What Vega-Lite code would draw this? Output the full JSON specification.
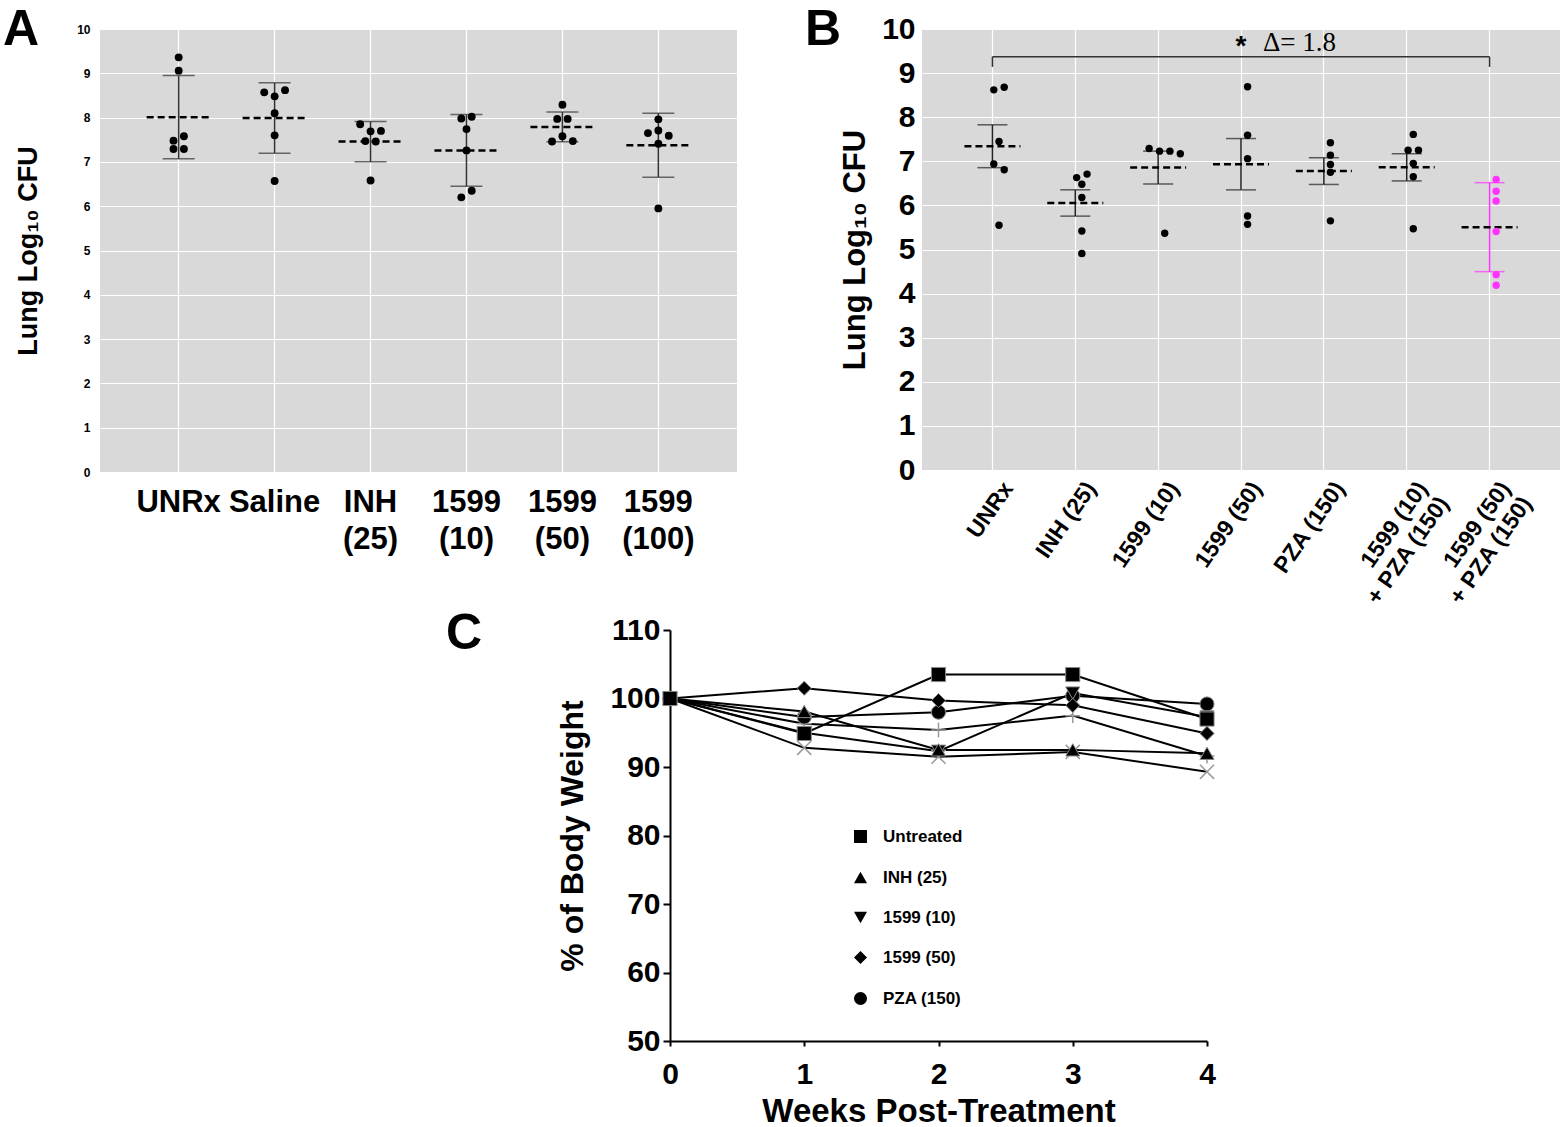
{
"$schema": "https://vega.github.io/schema/vega-lite/v6.json",
"background": "white",
"padding": {"left": 3, "top": 5, "right": 0, "bottom": 0},
"config": {
  "font": "Liberation Sans",
  "view": {"stroke": null},
  "title": {"fontSize": 50, "fontWeight": "bold", "anchor": "start", "frame": "group", "baseline": "alphabetic", "color": "black", "font": "Liberation Sans"},
  "axis": {"labelColor": "black", "titleColor": "black", "labelFontWeight": "bold", "titleFontWeight": "bold", "labelFont": "Liberation Sans", "titleFont": "Liberation Sans"}
},
"resolve": {"legend": {"shape": "independent"}, "scale": {"shape": "independent"}},
"datasets": {
  "panelA": [
    {"group": "UNRx", "value": 9.36, "lane": 0},
    {"group": "UNRx", "value": 9.06, "lane": 0},
    {"group": "UNRx", "value": 7.48, "lane": -1},
    {"group": "UNRx", "value": 7.58, "lane": 1},
    {"group": "UNRx", "value": 7.29, "lane": -1},
    {"group": "UNRx", "value": 7.29, "lane": 1},
    {"group": "Saline", "value": 8.57, "lane": -2},
    {"group": "Saline", "value": 8.48, "lane": 0},
    {"group": "Saline", "value": 8.62, "lane": 2},
    {"group": "Saline", "value": 8.10, "lane": 0},
    {"group": "Saline", "value": 7.60, "lane": 0},
    {"group": "Saline", "value": 6.57, "lane": 0},
    {"group": "INH (25)", "value": 7.85, "lane": -2},
    {"group": "INH (25)", "value": 7.69, "lane": 0},
    {"group": "INH (25)", "value": 7.70, "lane": 2},
    {"group": "INH (25)", "value": 7.47, "lane": -1},
    {"group": "INH (25)", "value": 7.46, "lane": 1},
    {"group": "INH (25)", "value": 6.58, "lane": 0},
    {"group": "1599 (10)", "value": 7.98, "lane": -1},
    {"group": "1599 (10)", "value": 8.02, "lane": 1},
    {"group": "1599 (10)", "value": 7.74, "lane": 0},
    {"group": "1599 (10)", "value": 7.26, "lane": 0},
    {"group": "1599 (10)", "value": 6.35, "lane": 1},
    {"group": "1599 (10)", "value": 6.20, "lane": -1},
    {"group": "1599 (50)", "value": 8.29, "lane": 0},
    {"group": "1599 (50)", "value": 7.97, "lane": -1},
    {"group": "1599 (50)", "value": 7.97, "lane": 1},
    {"group": "1599 (50)", "value": 7.58, "lane": 0},
    {"group": "1599 (50)", "value": 7.46, "lane": -2},
    {"group": "1599 (50)", "value": 7.47, "lane": 2},
    {"group": "1599 (100)", "value": 7.96, "lane": 0},
    {"group": "1599 (100)", "value": 7.65, "lane": -2},
    {"group": "1599 (100)", "value": 7.71, "lane": 0},
    {"group": "1599 (100)", "value": 7.59, "lane": 2},
    {"group": "1599 (100)", "value": 7.41, "lane": 0},
    {"group": "1599 (100)", "value": 5.95, "lane": 0}
  ],
  "panelB": [
    {"group": "UNRx", "value": 8.62, "lane": -1},
    {"group": "UNRx", "value": 8.68, "lane": 1},
    {"group": "UNRx", "value": 7.45, "lane": 0},
    {"group": "UNRx", "value": 6.94, "lane": -1},
    {"group": "UNRx", "value": 6.81, "lane": 1},
    {"group": "UNRx", "value": 5.55, "lane": 0},
    {"group": "INH (25)", "value": 6.63, "lane": -1},
    {"group": "INH (25)", "value": 6.71, "lane": 1},
    {"group": "INH (25)", "value": 6.48, "lane": 0},
    {"group": "INH (25)", "value": 6.18, "lane": 0},
    {"group": "INH (25)", "value": 5.42, "lane": 0},
    {"group": "INH (25)", "value": 4.91, "lane": 0},
    {"group": "1599 (10)", "value": 7.29, "lane": -3},
    {"group": "1599 (10)", "value": 7.23, "lane": -1},
    {"group": "1599 (10)", "value": 7.23, "lane": 1},
    {"group": "1599 (10)", "value": 7.17, "lane": 3},
    {"group": "1599 (10)", "value": 5.37, "lane": 0},
    {"group": "1599 (50)", "value": 8.69, "lane": 0},
    {"group": "1599 (50)", "value": 7.59, "lane": 0},
    {"group": "1599 (50)", "value": 7.06, "lane": 0},
    {"group": "1599 (50)", "value": 5.76, "lane": 0},
    {"group": "1599 (50)", "value": 5.57, "lane": 0},
    {"group": "PZA (150)", "value": 7.42, "lane": 0},
    {"group": "PZA (150)", "value": 7.14, "lane": 0},
    {"group": "PZA (150)", "value": 6.93, "lane": 0},
    {"group": "PZA (150)", "value": 6.75, "lane": 0},
    {"group": "PZA (150)", "value": 5.65, "lane": 0},
    {"group": "1599 (10) + PZA (150)", "value": 7.61, "lane": 0},
    {"group": "1599 (10) + PZA (150)", "value": 7.25, "lane": -1},
    {"group": "1599 (10) + PZA (150)", "value": 7.25, "lane": 1},
    {"group": "1599 (10) + PZA (150)", "value": 6.95, "lane": 0},
    {"group": "1599 (10) + PZA (150)", "value": 6.65, "lane": 0},
    {"group": "1599 (10) + PZA (150)", "value": 5.47, "lane": 0},
    {"group": "1599 (50) + PZA (150)", "value": 6.59, "lane": 0},
    {"group": "1599 (50) + PZA (150)", "value": 6.32, "lane": 0},
    {"group": "1599 (50) + PZA (150)", "value": 6.10, "lane": 0},
    {"group": "1599 (50) + PZA (150)", "value": 5.41, "lane": 0},
    {"group": "1599 (50) + PZA (150)", "value": 4.43, "lane": 0},
    {"group": "1599 (50) + PZA (150)", "value": 4.19, "lane": 0}
  ],
  "bracket": [
    {"left": "UNRx", "right": "1599 (50) + PZA (150)", "mid": "1599 (50)", "top": 9.37, "bottom": 9.14, "labelY": 9.68, "star": "*", "label": "Δ= 1.8"}
  ],
  "weights": [
    {"series": "1599 (10) + PZA (150)", "week": 0, "pct": 100},
    {"series": "1599 (10) + PZA (150)", "week": 1, "pct": 96.3},
    {"series": "1599 (10) + PZA (150)", "week": 2, "pct": 95.4},
    {"series": "1599 (10) + PZA (150)", "week": 3, "pct": 97.5},
    {"series": "1599 (10) + PZA (150)", "week": 4, "pct": 91.6},
    {"series": "1599 (50) + PZA (150)", "week": 0, "pct": 100},
    {"series": "1599 (50) + PZA (150)", "week": 1, "pct": 92.8},
    {"series": "1599 (50) + PZA (150)", "week": 2, "pct": 91.5},
    {"series": "1599 (50) + PZA (150)", "week": 3, "pct": 92.2},
    {"series": "1599 (50) + PZA (150)", "week": 4, "pct": 89.3},
    {"series": "PZA (150)", "week": 0, "pct": 100},
    {"series": "PZA (150)", "week": 1, "pct": 97.3},
    {"series": "PZA (150)", "week": 2, "pct": 98.0},
    {"series": "PZA (150)", "week": 3, "pct": 100.4},
    {"series": "PZA (150)", "week": 4, "pct": 99.2},
    {"series": "1599 (50)", "week": 0, "pct": 100},
    {"series": "1599 (50)", "week": 1, "pct": 101.5},
    {"series": "1599 (50)", "week": 2, "pct": 99.7},
    {"series": "1599 (50)", "week": 3, "pct": 99.0},
    {"series": "1599 (50)", "week": 4, "pct": 94.9},
    {"series": "1599 (10)", "week": 0, "pct": 100},
    {"series": "1599 (10)", "week": 1, "pct": 95.0},
    {"series": "1599 (10)", "week": 2, "pct": 92.3},
    {"series": "1599 (10)", "week": 3, "pct": 100.8},
    {"series": "1599 (10)", "week": 4, "pct": 97.3},
    {"series": "INH (25)", "week": 0, "pct": 100},
    {"series": "INH (25)", "week": 1, "pct": 98.1},
    {"series": "INH (25)", "week": 2, "pct": 92.5},
    {"series": "INH (25)", "week": 3, "pct": 92.5},
    {"series": "INH (25)", "week": 4, "pct": 92.0},
    {"series": "Untreated", "week": 0, "pct": 100},
    {"series": "Untreated", "week": 1, "pct": 94.9},
    {"series": "Untreated", "week": 2, "pct": 103.5},
    {"series": "Untreated", "week": 3, "pct": 103.5},
    {"series": "Untreated", "week": 4, "pct": 97.0}
  ]
},
"spacing": 0,
"vconcat": [
  {
    "spacing": 68,
    "hconcat": [
      {
        "width": 637, "height": 443,
        "view": {"fill": "#d9d9d9", "stroke": null},
        "title": {"text": "A", "dx": -97, "offset": -32},
        "data": {"name": "panelA"},
        "encoding": {
          "x": {"field": "group", "type": "nominal", "title": null,
                "scale": {"domain": ["UNRx", "Saline", "INH (25)", "1599 (10)", "1599 (50)", "1599 (100)"], "paddingInner": 0, "paddingOuter": 0.32},
                "axis": {"labelExpr": "split(datum.label, ' ')", "labelAngle": 0, "labelFontSize": 31, "labelLineHeight": 37, "labelPadding": 15, "labelBaseline": "top", "ticks": false, "domain": false, "grid": true, "gridColor": "white", "gridWidth": 1.2, "bandPosition": 0.5}}
        },
        "layer": [
          {
            "mark": {"type": "errorbar", "extent": "stdev", "color": "#333333", "thickness": 1.5, "ticks": {"size": 32, "color": "#333333"}},
            "encoding": {"y": {"field": "value", "type": "quantitative", "title": "Lung Log₁₀ CFU",
              "scale": {"domain": [0, 10], "nice": false},
              "axis": {"values": [0, 0.5, 1, 1.5, 2, 2.5, 3, 3.5, 4, 4.5, 5, 5.5, 6, 6.5, 7, 7.5, 8, 8.5, 9, 9.5, 10], "labelExpr": "datum.value % 1 == 0 ? datum.label : ''", "labelFontSize": 12, "labelPadding": 10, "ticks": false, "domain": false, "grid": true, "gridColor": "white", "gridWidth": 1.2, "titleFontSize": 27, "titlePadding": 34}}}
          },
          {
            "mark": {"type": "rule", "color": "black", "strokeWidth": 2.5, "strokeDash": [7, 4], "xOffset": -32, "x2Offset": 32},
            "encoding": {"x2": {"field": "group"}, "y": {"aggregate": "mean", "field": "value", "type": "quantitative", "title": "Lung Log₁₀ CFU"}}
          },
          {
            "mark": {"type": "circle", "size": 62, "color": "black", "opacity": 1},
            "encoding": {
              "xOffset": {"field": "lane", "type": "quantitative", "scale": {"domain": [-2, 2], "range": [32.4, 63.6]}},
              "y": {"field": "value", "type": "quantitative", "title": "Lung Log₁₀ CFU"}
            }
          }
        ]
      },
      {
        "width": 638, "height": 441,
        "view": {"fill": "#d9d9d9", "stroke": null},
        "title": {"text": "B", "dx": -117, "offset": -41},
        "data": {"name": "panelB"},
        "encoding": {
          "x": {"field": "group", "type": "nominal", "title": null,
                "scale": {"domain": ["UNRx", "INH (25)", "1599 (10)", "1599 (50)", "PZA (150)", "1599 (10) + PZA (150)", "1599 (50) + PZA (150)"], "paddingInner": 0, "paddingOuter": 0.35},
                "axis": {"labelExpr": "indexof(datum.label, ' + ') > 0 ? [substring(datum.label, 0, indexof(datum.label, ' + ')), substring(datum.label, indexof(datum.label, ' + ') + 1)] : datum.label", "labelAngle": -55, "labelAlign": "right", "labelBaseline": "middle", "labelFontSize": 23, "labelLineHeight": 26, "labelPadding": 14, "labelOffset": 16, "ticks": false, "domain": false, "grid": true, "gridColor": "white", "gridWidth": 1.2, "bandPosition": 0.5}}
        },
        "layer": [
          {
            "transform": [{"filter": "datum.group != '1599 (50) + PZA (150)'"}],
            "mark": {"type": "errorbar", "extent": "stderr", "color": "#222222", "thickness": 1.5, "ticks": {"size": 30, "color": "#222222"}},
            "encoding": {"y": {"field": "value", "type": "quantitative", "title": "Lung Log₁₀ CFU",
              "scale": {"domain": [0, 10], "nice": false},
              "axis": {"values": [0, 0.5, 1, 1.5, 2, 2.5, 3, 3.5, 4, 4.5, 5, 5.5, 6, 6.5, 7, 7.5, 8, 8.5, 9, 9.5, 10], "labelExpr": "datum.value % 1 == 0 ? datum.label : ''", "labelFontSize": 30, "labelPadding": 7, "ticks": false, "domain": false, "grid": true, "gridColor": "white", "gridWidth": 1.2, "titleFontSize": 31, "titlePadding": 10}}}
          },
          {
            "transform": [{"filter": "datum.group == '1599 (50) + PZA (150)'"}],
            "mark": {"type": "errorbar", "extent": "stdev", "color": "#ff33ff", "thickness": 1.5, "ticks": {"size": 30, "color": "#ff33ff"}},
            "encoding": {"y": {"field": "value", "type": "quantitative", "title": "Lung Log₁₀ CFU"}}
          },
          {
            "mark": {"type": "rule", "color": "black", "strokeWidth": 2.5, "strokeDash": [7, 4], "xOffset": -28, "x2Offset": 28},
            "encoding": {"x2": {"field": "group"}, "y": {"aggregate": "mean", "field": "value", "type": "quantitative", "title": "Lung Log₁₀ CFU"}}
          },
          {
            "mark": {"type": "circle", "size": 55, "opacity": 1},
            "encoding": {
              "xOffset": {"field": "lane", "type": "quantitative", "scale": {"domain": [-3, 3], "range": [21.9, 60.9]}},
              "y": {"field": "value", "type": "quantitative", "title": "Lung Log₁₀ CFU"},
              "color": {"condition": {"test": "datum.group == '1599 (50) + PZA (150)'", "value": "#ff33ff"}, "value": "black"}
            }
          },
          {
            "data": {"name": "bracket"},
            "mark": {"type": "rule", "color": "#333333", "strokeWidth": 1.5},
            "encoding": {"x": {"field": "left", "type": "nominal"}, "x2": {"field": "right"}, "y": {"field": "top", "type": "quantitative"}}
          },
          {
            "data": {"name": "bracket"},
            "mark": {"type": "rule", "color": "#333333", "strokeWidth": 1.5},
            "encoding": {"x": {"field": "left", "type": "nominal"}, "y": {"field": "top", "type": "quantitative"}, "y2": {"field": "bottom"}}
          },
          {
            "data": {"name": "bracket"},
            "mark": {"type": "rule", "color": "#333333", "strokeWidth": 1.5},
            "encoding": {"x": {"field": "right", "type": "nominal"}, "y": {"field": "top", "type": "quantitative"}, "y2": {"field": "bottom"}}
          },
          {
            "data": {"name": "bracket"},
            "mark": {"type": "text", "font": "Liberation Sans", "fontWeight": "bold", "fontSize": 28, "color": "black", "baseline": "middle", "dy": 4},
            "encoding": {"x": {"field": "mid", "type": "nominal"}, "y": {"field": "labelY", "type": "quantitative"}, "text": {"field": "star"}}
          },
          {
            "data": {"name": "bracket"},
            "mark": {"type": "text", "font": "Liberation Serif", "fontSize": 27, "color": "black", "align": "left", "baseline": "middle", "dx": 22},
            "encoding": {"x": {"field": "mid", "type": "nominal"}, "y": {"field": "labelY", "type": "quantitative"}, "text": {"field": "label"}}
          }
        ]
      }
    ]
  },
  {
    "spacing": 341,
    "resolve": {"legend": {"shape": "independent"}, "scale": {"shape": "independent"}},
    "hconcat": [
      {
        "width": 4, "height": 4,
        "data": {"values": [{}]},
        "mark": {"type": "point", "opacity": 0},
        "encoding": {}
      },
      {
        "width": 537, "height": 411,
        "title": {"text": "C", "dx": -224, "offset": -44},
        "data": {"name": "weights"},
        "encoding": {
          "x": {"field": "week", "type": "quantitative", "title": "Weeks Post-Treatment",
                "scale": {"domain": [0, 4], "nice": false},
                "axis": {"values": [0, 1, 2, 3, 4], "format": "d", "labelFlush": false, "labelFontSize": 30, "titleFontSize": 33, "grid": false, "domainColor": "black", "domainWidth": 2, "tickColor": "black", "tickWidth": 2, "tickSize": 5, "labelPadding": 13, "titlePadding": 6}},
          "y": {"field": "pct", "type": "quantitative", "title": "% of Body Weight",
                "scale": {"domain": [50, 110], "nice": false, "zero": false},
                "axis": {"values": [50, 60, 70, 80, 90, 100, 110], "labelFlush": false, "labelFontSize": 30, "titleFontSize": 32, "grid": false, "domainColor": "black", "domainWidth": 2, "tickColor": "black", "tickWidth": 2, "tickSize": 7, "labelPadding": 3, "titlePadding": 20}}
        },
        "layer": [
          {"mark": {"type": "line", "color": "black", "strokeWidth": 2}, "encoding": {"detail": {"field": "series", "type": "nominal"}}},
          {
            "transform": [{"filter": "datum.series == '1599 (10) + PZA (150)'"}],
            "mark": {"type": "point", "shape": "M-1,0L1,0M0,-1L0,1", "filled": false, "stroke": "#9a9a9a", "strokeWidth": 1.5, "size": 220, "opacity": 1}
          },
          {
            "transform": [{"filter": "datum.series == '1599 (50) + PZA (150)'"}],
            "mark": {"type": "point", "shape": "M-1,-1L1,1M-1,1L1,-1", "filled": false, "stroke": "#9a9a9a", "strokeWidth": 1.5, "size": 200, "opacity": 1}
          },
          {
            "transform": [{"filter": {"field": "series", "oneOf": ["Untreated", "INH (25)", "1599 (10)", "1599 (50)", "PZA (150)"]}}],
            "mark": {"type": "point", "filled": true, "color": "black", "stroke": "#8a8a8a", "strokeWidth": 1, "size": 200, "opacity": 1},
            "encoding": {
              "shape": {"field": "series", "type": "nominal",
                "scale": {"domain": ["Untreated", "INH (25)", "1599 (10)", "1599 (50)", "PZA (150)"], "range": ["square", "triangle-up", "triangle-down", "diamond", "circle"]},
                "legend": {"orient": "none", "legendX": 182, "legendY": 198, "title": null, "labelFontSize": 17, "labelFontWeight": "bold", "labelColor": "black", "symbolSize": 170, "symbolFillColor": "black", "symbolStrokeColor": "#8a8a8a", "symbolStrokeWidth": 1, "rowPadding": 22, "labelOffset": 14}}
            }
          }
        ]
      }
    ]
  }
]
}
